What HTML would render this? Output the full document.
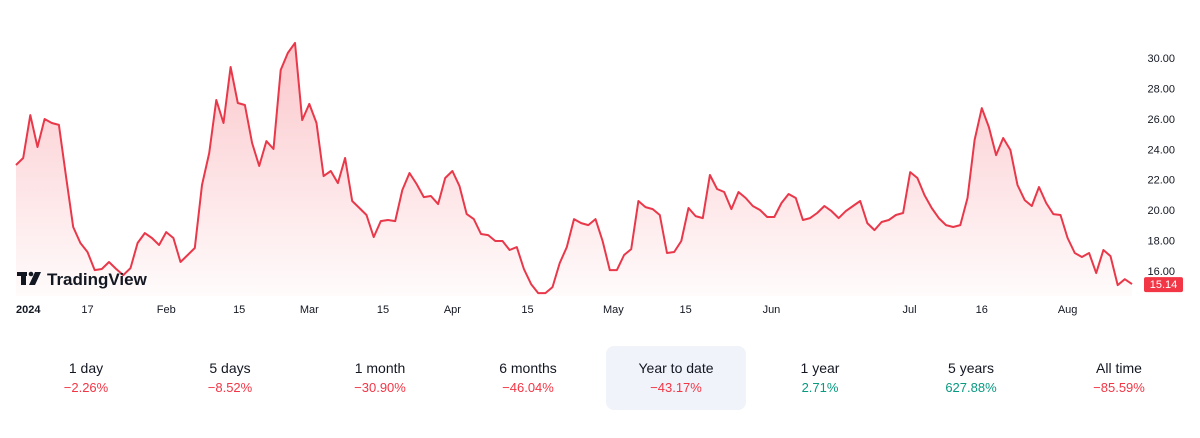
<!DOCTYPE html>
<html><head><meta charset="utf-8">
<style>
body{margin:0;width:1200px;height:438px;background:#fff;font-family:"Liberation Sans",sans-serif;overflow:hidden;position:relative}
svg{position:absolute;left:0;top:0}
.per{position:absolute;top:346px;width:140px;height:64px;text-align:center;border-radius:8px}
.per .l{margin-top:14px;font-size:14px;color:#131722}
.per .v{margin-top:4px;font-size:13px}
.neg{color:#f23645}.pos{color:#089981}
.sel{background:#f0f3fa}
</style></head><body>
<svg id="chart" width="1200" height="330"></svg>
<div class="per" style="left:16px"><div class="l">1 day</div><div class="v neg">−2.26%</div></div>
<div class="per" style="left:160px"><div class="l">5 days</div><div class="v neg">−8.52%</div></div>
<div class="per" style="left:310px"><div class="l">1 month</div><div class="v neg">−30.90%</div></div>
<div class="per" style="left:458px"><div class="l">6 months</div><div class="v neg">−46.04%</div></div>
<div class="per sel" style="left:606px"><div class="l">Year to date</div><div class="v neg">−43.17%</div></div>
<div class="per" style="left:750px"><div class="l">1 year</div><div class="v pos">2.71%</div></div>
<div class="per" style="left:901px"><div class="l">5 years</div><div class="v pos">627.88%</div></div>
<div class="per" style="left:1049px"><div class="l">All time</div><div class="v neg">−85.59%</div></div>
<script>
const values=[22.97,23.43,26.25,24.15,25.99,25.73,25.6,22.18,18.89,17.84,17.25,16.06,16.13,16.59,16.13,15.73,16.19,17.84,18.49,18.17,17.71,18.56,18.17,16.59,17.05,17.51,21.65,23.75,27.24,25.73,29.41,27.04,26.91,24.41,22.9,24.54,24.02,29.21,30.33,30.99,25.92,26.98,25.73,22.24,22.57,21.78,23.43,20.6,20.14,19.68,18.23,19.28,19.35,19.28,21.32,
22.44,21.72,20.86,20.93,20.4,22.11,22.57,21.58,19.74,19.41,18.43,18.36,17.97,17.97,17.38,17.57,16.13,15.14,14.55,14.55,14.94,16.52,17.57,19.41,19.15,19.02,19.41,17.97,16.06,16.06,17.05,17.44,20.6,20.2,20.07,19.68,17.18,17.25,17.97,20.14,19.61,19.48,22.31,21.39,21.19,20.07,21.19,20.8,20.27,20.01,19.55,19.55,20.47,21.06,20.8,
19.35,19.48,19.81,20.27,19.94,19.48,19.94,20.27,20.6,19.15,18.69,19.22,19.35,19.68,19.81,22.5,22.11,20.99,20.14,19.48,19.02,18.89,19.02,20.8,24.61,26.71,25.46,23.62,24.74,23.95,21.65,20.66,20.27,21.52,20.47,19.74,19.68,18.17,17.18,16.92,17.18,15.86,17.38,16.98,15.07,15.46,15.14];
const yTicks=[16,18,20,22,24,26,28,30];
const xTickLabels=["2024","17","Feb","15","Mar","15","Apr","15","May","15","Jun","Jul","16","Aug"];
const xTickIdx=[0,10,21,31.2,41,51.3,61,71.5,83.5,93.6,105.6,124.9,135,147];
const lastPrice="15.14";
const NS="http://www.w3.org/2000/svg";
const svg=document.getElementById('chart');
const x0=16,x1=1132,yTop=58,yBot=271,vTop=30,vBot=16;
const X=i=>x0+i*(x1-x0)/(values.length-1);
const Y=v=>yTop+(vTop-v)*(yBot-yTop)/(vTop-vBot);
function mk(t,a){const e=document.createElementNS(NS,t);for(const k in a)e.setAttribute(k,a[k]);svg.appendChild(e);return e;}
const defs=mk('defs',{});
defs.innerHTML='<linearGradient id="g" x1="0" y1="0" x2="0" y2="1"><stop offset="0" stop-color="#f23645" stop-opacity="0.28"/><stop offset="1" stop-color="#f23645" stop-opacity="0.02"/></linearGradient>';
let d=values.map((v,i)=>(i?'L':'M')+X(i).toFixed(1)+','+Y(v).toFixed(1)).join('');
const area=mk('path',{d:d+`L${x1},296L${x0},296Z`,fill:'url(#g)'});


const line=mk('path',{d:d,fill:'none',stroke:'#e8384a','stroke-width':2,'stroke-linejoin':'round'});


yTicks.forEach(v=>{const t=mk('text',{x:1175,y:Y(v)+4,'text-anchor':'end','font-size':11,fill:'#131722'});t.textContent=v.toFixed(2);

});
xTickLabels.forEach((s,k)=>{const i=xTickIdx[k];const t=mk('text',{x:i===0?x0:X(i),y:313,'text-anchor':i===0?'start':'middle','font-size':11,fill:'#131722','font-weight':i===0?'bold':'normal'});t.textContent=s;

});
const yl=Y(values[values.length-1]);
const badge=mk('rect',{x:1144,y:yl-7,width:39,height:15,fill:'#f23645',rx:2});


const bt=mk('text',{x:1163.5,y:yl+4,'text-anchor':'middle','font-size':11,fill:'#fff'});bt.textContent=lastPrice;


const logo=mk('g',{});


logo.innerHTML='<rect x="17" y="272" width="10" height="4" fill="#131722"/><rect x="21" y="272" width="5" height="13" fill="#131722"/><circle cx="31" cy="274" r="2.3" fill="#131722"/><path d="M35 272h6l-6 13h-6z" fill="#131722"/><text x="47" y="285" font-size="17" font-weight="bold" fill="#131722">TradingView</text>';
</script>
</body></html>
